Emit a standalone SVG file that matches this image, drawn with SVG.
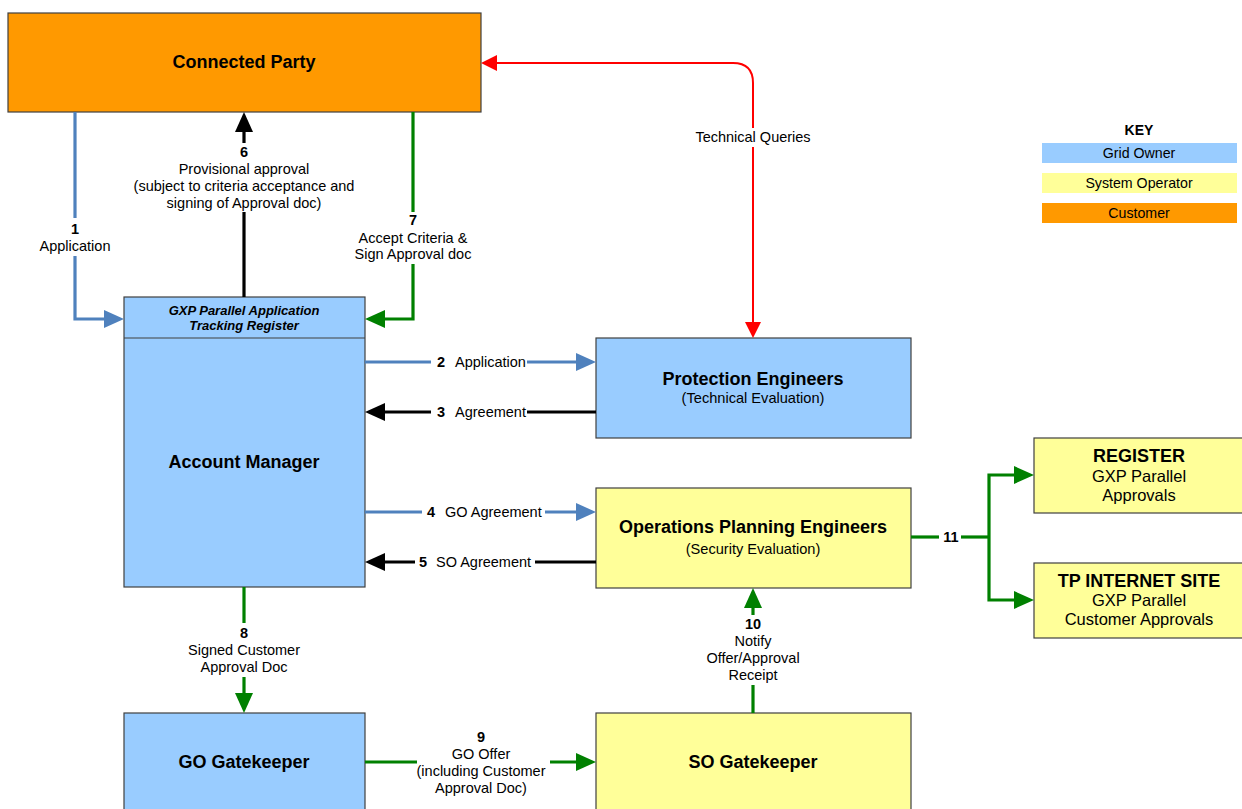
<svg xmlns="http://www.w3.org/2000/svg" width="1242" height="809" viewBox="0 0 1242 809">
<style>
text{font-family:"Liberation Sans",Arial,sans-serif;fill:#000}
.box{stroke:#404040;stroke-width:1.2}
.go{fill:#99CCFF}.so{fill:#FFFF99}.cu{fill:#FF9900}
.t{font-size:18px;font-weight:bold;text-anchor:middle}
.r{font-size:16.5px;text-anchor:middle}
.rb{font-size:18px;font-weight:bold;text-anchor:middle}
.s{font-size:14.6px;text-anchor:middle}
.k{font-size:14.2px;text-anchor:middle}
.l{font-size:14.5px}
.lc{font-size:14.5px;text-anchor:middle}
.n{font-weight:bold}
.h{font-size:13px;font-weight:bold;font-style:italic;text-anchor:middle}
.c{fill:none;stroke-width:3.2}
.cb{stroke:#4F81BD}.ck{stroke:#000}.cg{stroke:#008000}.cr{stroke:#FF0000;stroke-width:2}
</style>
<defs>
<marker id="ab" markerUnits="userSpaceOnUse" markerWidth="20" markerHeight="20" viewBox="0 0 20 20" refX="10" refY="10" orient="auto"><path d="M0,1 L20,10 L0,19 z" fill="#4F81BD"/></marker>
<marker id="ak" markerUnits="userSpaceOnUse" markerWidth="20" markerHeight="20" viewBox="0 0 20 20" refX="10" refY="10" orient="auto"><path d="M0,1 L20,10 L0,19 z" fill="#000"/></marker>
<marker id="ag" markerUnits="userSpaceOnUse" markerWidth="20" markerHeight="20" viewBox="0 0 20 20" refX="10" refY="10" orient="auto"><path d="M0,1 L20,10 L0,19 z" fill="#008000"/></marker>
<marker id="ar" markerUnits="userSpaceOnUse" markerWidth="16" markerHeight="16" viewBox="0 0 16 16" refX="6" refY="8" orient="auto-start-reverse"><path d="M0,0 L16,8 L0,16 z" fill="#FF0000"/></marker>
</defs>
<rect width="1242" height="809" fill="#fff"/>

<g id="connected-party"><rect class="box cu" x="8" y="13" width="473" height="99"/><text class="t" x="244" y="68">Connected Party</text></g>
<g id="account-manager"><rect class="box go" x="124" y="297" width="241" height="290"/><line x1="124" y1="338" x2="365" y2="338" stroke="#404040" stroke-width="1.2"/><text class="h" x="244" y="314.5">GXP Parallel Application</text><text class="h" x="244" y="329.5">Tracking Register</text><text class="t" x="244" y="468">Account Manager</text></g>
<g id="protection-engineers"><rect class="box go" x="596" y="338" width="315" height="100"/><text class="t" x="753" y="385">Protection Engineers</text><text class="s" x="753" y="403">(Technical Evaluation)</text></g>
<g id="operations-planning"><rect class="box so" x="596" y="488" width="315" height="100"/><text class="t" x="753" y="533">Operations Planning Engineers</text><text class="s" x="753" y="554">(Security Evaluation)</text></g>
<g id="register"><rect class="box so" x="1034" y="438" width="215" height="75"/><text class="rb" x="1139" y="462">REGISTER</text><text class="r" x="1139" y="482">GXP Parallel</text><text class="r" x="1139" y="501">Approvals</text></g>
<g id="tp-internet-site"><rect class="box so" x="1034" y="563" width="215" height="75"/><text class="rb" x="1139" y="587">TP INTERNET SITE</text><text class="r" x="1139" y="606">GXP Parallel</text><text class="r" x="1139" y="625">Customer Approvals</text></g>
<g id="go-gatekeeper"><rect class="box go" x="124" y="713" width="241" height="105"/><text class="t" x="244" y="768">GO Gatekeeper</text></g>
<g id="so-gatekeeper"><rect class="box so" x="596" y="713" width="315" height="105"/><text class="t" x="753" y="768">SO Gatekeeper</text></g>

<g id="key">
<text x="1139" y="135" style="font-size:14px;font-weight:bold;text-anchor:middle">KEY</text>
<rect class="go" x="1042" y="143" width="195" height="20"/><text class="k" x="1139" y="158">Grid Owner</text>
<rect class="so" x="1042" y="173" width="195" height="20"/><text class="k" x="1139" y="188">System Operator</text>
<rect class="cu" x="1042" y="203" width="195" height="20"/><text class="k" x="1139" y="218">Customer</text>
</g>

<g id="connectors">
<path class="c cb" d="M75,112 V218"/><path class="c cb" d="M75,256 V319 H114" marker-end="url(#ab)"/>
<path class="c ck" d="M244,297 V212"/><path class="c ck" d="M244,143 V122" marker-end="url(#ak)"/>
<path class="c cg" d="M413,112 V212"/><path class="c cg" d="M413,264 V319 H375" marker-end="url(#ag)"/>
<path class="c cr" d="M491,63 H733 Q753,63 753,83 V128" marker-start="url(#ar)"/><path class="c cr" d="M753,147 V328" marker-end="url(#ar)"/>
<path class="c cb" d="M365,362 H431"/><path class="c cb" d="M527,362 H586" marker-end="url(#ab)"/>
<path class="c ck" d="M596,412 H527"/><path class="c ck" d="M431,412 H375" marker-end="url(#ak)"/>
<path class="c cb" d="M365,512 H422"/><path class="c cb" d="M545,512 H586" marker-end="url(#ab)"/>
<path class="c ck" d="M596,562 H535"/><path class="c ck" d="M415,562 H375" marker-end="url(#ak)"/>
<path class="c cg" d="M244,587 V623"/><path class="c cg" d="M244,677 V703" marker-end="url(#ag)"/>
<path class="c cg" d="M365,762 H417"/><path class="c cg" d="M550,762 H586" marker-end="url(#ag)"/>
<path class="c cg" d="M753,713 V685"/><path class="c cg" d="M753,615 V598" marker-end="url(#ag)"/>
<path class="c cg" d="M911,537 H939"/><path class="c cg" d="M961,537 H989"/>
<path class="c cg" d="M989,537 V475 H1024" marker-end="url(#ag)"/><path class="c cg" d="M989,537 V600 H1024" marker-end="url(#ag)"/>

<text class="lc n" x="75" y="234">1</text><text class="lc" x="75" y="251">Application</text>
<text class="lc n" x="244" y="157">6</text><text class="lc" x="244" y="174">Provisional approval</text><text class="lc" x="244" y="191">(subject to criteria acceptance and</text><text class="lc" x="244" y="208">signing of Approval doc)</text>
<text class="lc n" x="413" y="225">7</text><text class="lc" x="413" y="243">Accept Criteria &amp;</text><text class="lc" x="413" y="259">Sign Approval doc</text>
<text class="lc" x="753" y="142">Technical Queries</text>
<text class="l n" x="437" y="367">2</text><text class="l" x="455" y="367">Application</text>
<text class="l n" x="437" y="417">3</text><text class="l" x="455" y="417">Agreement</text>
<text class="l n" x="427" y="517">4</text><text class="l" x="445" y="517">GO Agreement</text>
<text class="l n" x="419" y="567">5</text><text class="l" x="436" y="567">SO Agreement</text>
<text class="lc n" x="244" y="638">8</text><text class="lc" x="244" y="655">Signed Customer</text><text class="lc" x="244" y="672">Approval Doc</text>
<text class="lc n" x="481" y="742">9</text><text class="lc" x="481" y="759">GO Offer</text><text class="lc" x="481" y="776">(including Customer</text><text class="lc" x="481" y="793">Approval Doc)</text>
<text class="lc n" x="753" y="629">10</text><text class="lc" x="753" y="646">Notify</text><text class="lc" x="753" y="663">Offer/Approval</text><text class="lc" x="753" y="680">Receipt</text>
<text class="lc n" x="951" y="542">11</text>
</g>
</svg>
